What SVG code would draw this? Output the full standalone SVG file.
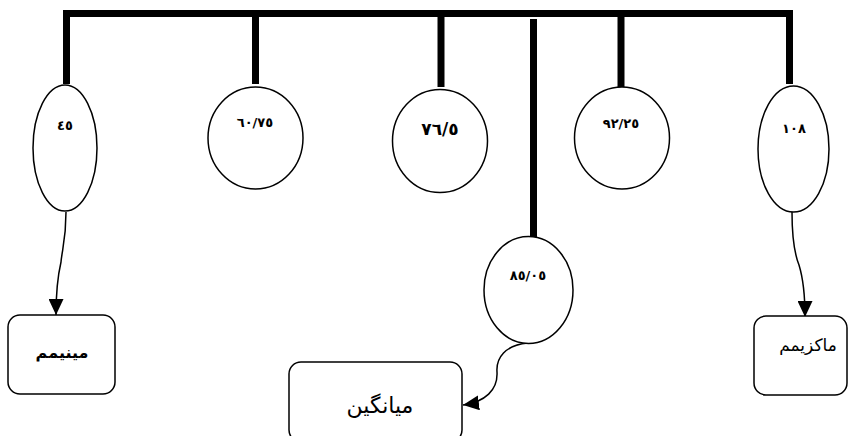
<svg xmlns="http://www.w3.org/2000/svg" width="851" height="436" viewBox="0 0 851 436">
<style>
.bar{stroke:#000;stroke-width:7;fill:none;stroke-linecap:butt}
.node{fill:#fff;stroke:#000;stroke-width:1.5}
.conn{fill:none;stroke:#000;stroke-width:1.5}
.num{font-family:"DejaVu Sans",sans-serif;font-weight:bold;font-size:13px;text-anchor:middle;fill:#000}
.lbl{font-family:"DejaVu Sans",sans-serif;font-size:16px;text-anchor:middle;fill:#000}
</style>
<defs>
<marker id="arr" markerUnits="userSpaceOnUse" markerWidth="17" markerHeight="15" refX="16" refY="7.5" orient="auto">
<path d="M0,0 L16,7.5 L0,15 Z" fill="#000"/>
</marker>
</defs>
<g id="connectors">
<path class="bar" d="M66.5,84 V13.5 H789.5 V84"/>
<line class="bar" x1="255.5" y1="13.5" x2="255.5" y2="84"/>
<line class="bar" x1="441" y1="13.5" x2="441" y2="87"/>
<line class="bar" x1="533.5" y1="19" x2="533.5" y2="237"/>
<line class="bar" x1="621" y1="13.5" x2="621" y2="88"/>
<path class="conn" marker-end="url(#arr)" d="M66,212 C66,240 62,250 61,262 C58,275 56,295 56,315"/>
<path class="conn" marker-end="url(#arr)" d="M528,343 C505,345 496,358 497,372 C498,390 485,402 463,405"/>
<path class="conn" marker-end="url(#arr)" d="M792,212 C792,240 795,255 799,265 C803,278 805,295 805,317"/>
</g>
<g id="n45"><ellipse class="node" cx="65" cy="148" rx="32" ry="63"/><text class="num" x="65" y="130">٤٥</text></g>
<g id="n6075"><ellipse class="node" cx="255.5" cy="138" rx="47.5" ry="51"/><text class="num" x="255" y="127">٦٠/٧٥</text></g>
<g id="n765"><ellipse class="node" cx="440" cy="141" rx="47.5" ry="51.5"/><text class="num" x="440" y="135" style="font-size:17px">٧٦/٥</text></g>
<g id="n8505"><ellipse class="node" cx="528.5" cy="290" rx="44.5" ry="53.5"/><text class="num" x="528" y="280">٨٥/٠٥</text></g>
<g id="n9225"><ellipse class="node" cx="622" cy="138" rx="47.5" ry="51"/><text class="num" x="621" y="128">٩٢/٢٥</text></g>
<g id="n108"><ellipse class="node" cx="793.5" cy="149" rx="35.5" ry="63"/><text class="num" x="794" y="133">١٠٨</text></g>
<g id="min"><rect class="node" x="8" y="315" width="107" height="79" rx="12"/><text class="lbl" x="62" y="358" style="font-weight:bold">مینیمم</text></g>
<g id="mean"><rect class="node" x="289" y="362" width="173" height="80" rx="12"/><text class="lbl" x="380" y="413" style="font-size:22px">میانگین</text></g>
<g id="max"><rect class="node" x="754" y="316" width="93" height="79" rx="12"/><text class="lbl" x="808" y="351" style="font-size:17px">ماکزیمم</text></g>
</svg>
